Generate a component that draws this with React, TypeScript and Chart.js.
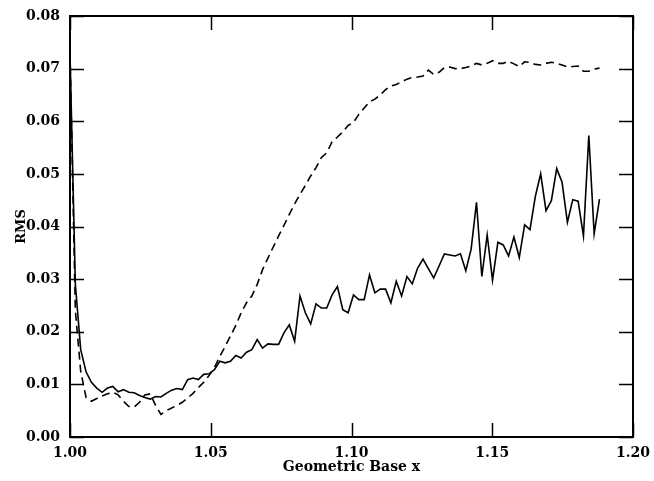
import React, { useEffect, useRef } from "react";
import { Chart, registerables } from "chart.js";

Chart.register(...registerables);

// Sampling grid of the geometric base (x axis)
const X_START = 1.0;
const X_STEP = 0.0019;

// RMS, solid curve
const SOLID_RMS = [
  0.073, 0.029, 0.0166, 0.0124, 0.0104, 0.0093, 0.0085, 0.0093, 0.0096, 0.0086,
  0.009, 0.0085, 0.0084, 0.0079, 0.0075, 0.0072, 0.0077, 0.0076, 0.0083, 0.0089,
  0.0092, 0.009, 0.0109, 0.0112, 0.0109, 0.0119, 0.012, 0.0128, 0.0144, 0.0141,
  0.0144, 0.0155, 0.015, 0.0161, 0.0166, 0.0185, 0.0169, 0.0177, 0.0176, 0.0176,
  0.0198, 0.0213, 0.0182, 0.0268, 0.0236, 0.0215, 0.0253, 0.0245, 0.0245, 0.027,
  0.0286, 0.0242, 0.0236, 0.027, 0.0261, 0.0261, 0.0308, 0.0274, 0.0281, 0.0281,
  0.0255, 0.0296, 0.0268, 0.0305, 0.0291, 0.0321, 0.0338, 0.032, 0.0302, 0.0325,
  0.0348, 0.0346, 0.0344, 0.0348, 0.0316, 0.0357, 0.0446, 0.0305, 0.0384, 0.0298,
  0.037, 0.0365, 0.0344, 0.038, 0.0341, 0.0403, 0.0394, 0.0457, 0.05, 0.043,
  0.0449, 0.051, 0.0484, 0.0408, 0.0451, 0.0448, 0.0382, 0.0573, 0.0386, 0.0452,
];

// RMS, dashed curve
const DASHED_RMS = [
  0.073, 0.024, 0.0125, 0.0075, 0.0068, 0.0073, 0.0078, 0.0082, 0.0085, 0.008,
  0.0068, 0.0058, 0.0057, 0.0066, 0.008, 0.0082, 0.006, 0.0043, 0.005, 0.0055,
  0.006, 0.0066, 0.0074, 0.0083, 0.0094, 0.0104, 0.0117, 0.0132, 0.0153, 0.0172,
  0.0192, 0.0212, 0.0236, 0.0255, 0.0268, 0.029, 0.0318, 0.034, 0.0361, 0.0382,
  0.0402, 0.0423, 0.0443, 0.0461, 0.0478, 0.0496, 0.0512, 0.0531, 0.054, 0.0561,
  0.057, 0.058, 0.0592, 0.0598, 0.0613, 0.0625, 0.0637, 0.0642, 0.065, 0.066,
  0.0667, 0.067, 0.0675, 0.068, 0.0683, 0.0684, 0.0686, 0.0697, 0.0689, 0.0693,
  0.0702, 0.0703, 0.07, 0.07, 0.0702, 0.0705, 0.071, 0.0707, 0.071, 0.0715,
  0.071, 0.071, 0.0714, 0.0709, 0.0704, 0.0713, 0.0712, 0.0708, 0.0707, 0.071,
  0.0712, 0.071, 0.0707, 0.0703, 0.0704, 0.0705, 0.0695, 0.0695, 0.0699, 0.0701,
];

const X_TICKS = [1.0, 1.05, 1.1, 1.15, 1.2];
const Y_TICKS = [0, 0.01, 0.02, 0.03, 0.04, 0.05, 0.06, 0.07, 0.08];

const X_TITLE = "Geometric Base x";
const Y_TITLE = "RMS";

const FONT_FAMILY = "'DejaVu Serif', serif";

const toPoints = (vals: number[]) =>
  vals.map((v, i) => ({ x: X_START + X_STEP * i, y: v }));

const framePlugin = {
  id: "frameTicks",
  afterDatasetsDraw(chart: any) {
    const { ctx, chartArea, scales } = chart;
    const { left, right, top, bottom } = chartArea;
    const xs = scales.x;
    const ys = scales.y;
    ctx.save();
    ctx.strokeStyle = "#000";
    ctx.lineWidth = 2;
    ctx.strokeRect(left, top, right - left, bottom - top);
    ctx.lineWidth = 1.5;
    ctx.beginPath();
    xs.ticks.forEach((t: any) => {
      const px = Math.round(xs.getPixelForValue(t.value)) + 0.5;
      ctx.moveTo(px, bottom);
      ctx.lineTo(px, bottom - 14);
      ctx.moveTo(px, top);
      ctx.lineTo(px, top + 14);
    });
    ys.ticks.forEach((t: any) => {
      const py = Math.round(ys.getPixelForValue(t.value)) + 0.5;
      ctx.moveTo(left, py);
      ctx.lineTo(left + 14, py);
      ctx.moveTo(right, py);
      ctx.lineTo(right - 14, py);
    });
    ctx.stroke();
    ctx.restore();
  },
};

export default function App() {
  const canvasRef = useRef<HTMLCanvasElement | null>(null);

  useEffect(() => {
    if (!canvasRef.current) return;
    const chart = new Chart(canvasRef.current, {
      type: "line",
      data: {
        datasets: [
          {
            data: toPoints(SOLID_RMS),
            borderColor: "#000",
            borderWidth: 1.6,
            pointRadius: 0,
            tension: 0,
            fill: false,
          },
          {
            data: toPoints(DASHED_RMS),
            borderColor: "#000",
            borderWidth: 1.6,
            borderDash: [8, 5],
            pointRadius: 0,
            tension: 0,
            fill: false,
          },
        ],
      },
      options: {
        responsive: false,
        animation: false,
        layout: { padding: { left: 0, right: 21, top: 16, bottom: 0 } },
        plugins: {
          legend: { display: false },
          tooltip: { enabled: false },
        },
        scales: {
          x: {
            type: "linear",
            min: 1.0,
            max: 1.2,
            afterBuildTicks: (scale: any) => {
              scale.ticks = X_TICKS.map((v) => ({ value: v }));
            },
            afterFit: (scale: any) => {
              scale.height = 44;
              scale.paddingLeft = 0;
              scale.paddingRight = 0;
            },
            grid: { display: false, drawTicks: false },
            border: { display: false },
            ticks: {
              color: "#000",
              padding: 8,
              maxRotation: 0,
              autoSkip: false,
              font: { family: FONT_FAMILY, size: 14, weight: "bold" },
              callback: (v: any) => Number(v).toFixed(2),
            },
            title: {
              display: true,
              text: X_TITLE,
              color: "#000",
              font: { family: FONT_FAMILY, size: 14, weight: "bold" },
              padding: { top: 0, bottom: 5 },
            },
          },
          y: {
            type: "linear",
            min: 0,
            max: 0.08,
            afterBuildTicks: (scale: any) => {
              scale.ticks = Y_TICKS.map((v) => ({ value: v }));
            },
            afterFit: (scale: any) => {
              scale.width = 70;
              scale.paddingTop = 0;
              scale.paddingBottom = 0;
            },
            grid: { display: false, drawTicks: false },
            border: { display: false },
            ticks: {
              color: "#000",
              padding: 10,
              autoSkip: false,
              font: { family: FONT_FAMILY, size: 14, weight: "bold" },
              callback: (v: any) => Number(v).toFixed(2),
            },
            title: {
              display: true,
              text: Y_TITLE,
              color: "#000",
              font: { family: FONT_FAMILY, size: 13, weight: "bold" },
              padding: { top: 14, bottom: 0 },
            },
          },
        },
      },
      plugins: [framePlugin],
    });
    return () => chart.destroy();
  }, []);

  return (
    <div style={{ position: "absolute", left: 0, top: 0, width: 654, height: 481, background: "#fff" }}>
      <canvas ref={canvasRef} width={654} height={481} style={{ display: "block" }} />
    </div>
  );
}
